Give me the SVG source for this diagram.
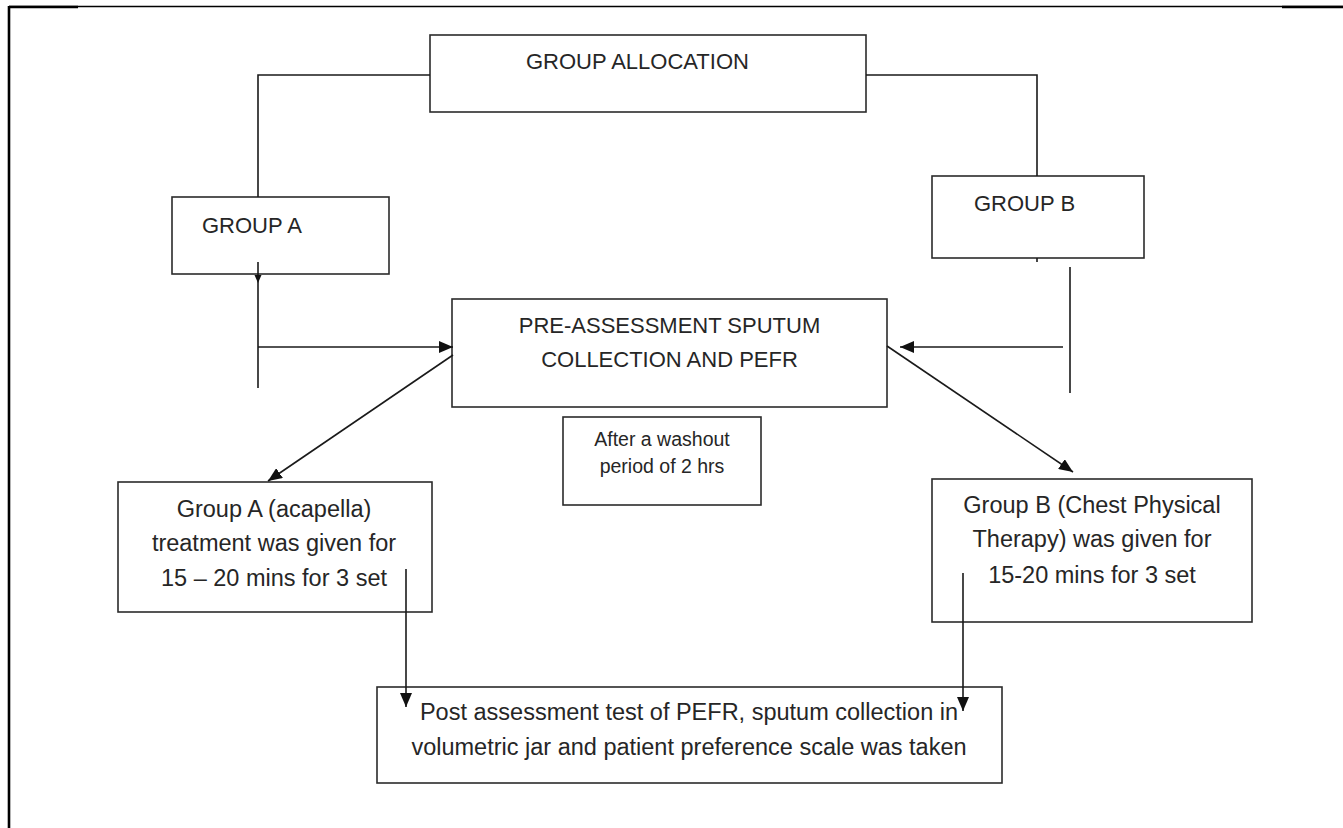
<svg xmlns="http://www.w3.org/2000/svg" width="1343" height="828" viewBox="0 0 1343 828">
<style>
.box{fill:#fff;stroke:#2b2b2b;stroke-width:1.6}
.cap{font-family:"Liberation Sans",Arial,sans-serif;font-size:22px;fill:#262626}
.txt{font-family:"Liberation Sans",Arial,sans-serif;font-size:23.5px;fill:#262626;text-anchor:middle}
.sm{font-family:"Liberation Sans",Arial,sans-serif;font-size:19.5px;fill:#262626;text-anchor:middle}
.ln{fill:none;stroke:#1a1a1a;stroke-width:1.6}
.ar{marker-end:url(#ah)}
</style>
<defs>
<marker id="ah" viewBox="0 0 14 12" refX="14" refY="6" markerWidth="14" markerHeight="12" markerUnits="userSpaceOnUse" orient="auto">
<path d="M0,0 L14,6 L0,12 Z" fill="#111"/>
</marker>
</defs>
<g id="border">
<line x1="9" y1="6.5" x2="1343" y2="6.5" stroke="#000" stroke-width="1.6"/>
<line x1="9" y1="7" x2="78" y2="7" stroke="#000" stroke-width="2.6"/>
<line x1="1282" y1="7" x2="1343" y2="7" stroke="#000" stroke-width="2.6"/>
<line x1="9" y1="6" x2="9" y2="828" stroke="#000" stroke-width="2.6"/>
</g>
<g id="group-allocation">
<rect class="box" x="430" y="35" width="436" height="77"/>
<text class="cap" x="526" y="69">GROUP ALLOCATION</text>
</g>
<g id="group-a">
<rect class="box" x="172" y="197" width="217" height="77"/>
<text class="cap" x="202" y="233">GROUP A</text>
</g>
<g id="group-b">
<rect class="box" x="932" y="176" width="212" height="82"/>
<text class="cap" x="974" y="211">GROUP B</text>
</g>
<g id="pre-assessment">
<rect class="box" x="452" y="299" width="435" height="108"/>
<text class="cap" x="669.5" y="333" text-anchor="middle">PRE-ASSESSMENT SPUTUM</text>
<text class="cap" x="669.5" y="367" text-anchor="middle">COLLECTION AND PEFR</text>
</g>
<g id="washout">
<rect class="box" x="563" y="417" width="198" height="88"/>
<text class="sm" x="662" y="446">After a washout</text>
<text class="sm" x="662" y="473">period of 2 hrs</text>
</g>
<g id="group-a-treatment">
<rect class="box" x="118" y="482" width="314" height="130"/>
<text class="txt" x="274" y="517">Group A (acapella)</text>
<text class="txt" x="274" y="551">treatment was given for</text>
<text class="txt" x="274" y="586">15 – 20 mins for 3 set</text>
</g>
<g id="group-b-treatment">
<rect class="box" x="932" y="479" width="320" height="143"/>
<text class="txt" x="1092" y="513">Group B (Chest Physical</text>
<text class="txt" x="1092" y="547">Therapy) was given for</text>
<text class="txt" x="1092" y="583">15-20 mins for 3 set</text>
</g>
<g id="post-assessment">
<rect class="box" x="377" y="687" width="625" height="96"/>
<text class="txt" x="689" y="720">Post assessment test of PEFR, sputum collection in</text>
<text class="txt" x="689" y="755">volumetric jar and patient preference scale was taken</text>
</g>
<g id="connectors">
<polyline class="ln" points="430,75 258,75 258,197"/>
<polyline class="ln" points="866,75 1037,75 1037,176"/>
<line class="ln" x1="258" y1="262" x2="258" y2="388"/>
<path d="M254.5,275 L261.5,275 L258,283 Z" fill="#111"/>
<line class="ln ar" x1="258" y1="347" x2="453" y2="347"/>
<line class="ln" x1="1037" y1="258" x2="1037" y2="262"/>
<line class="ln" x1="1070" y1="267" x2="1070" y2="393"/>
<line class="ln ar" x1="1063" y1="347" x2="900" y2="347"/>
<line class="ln ar" x1="453" y1="355" x2="268" y2="481"/>
<line class="ln ar" x1="887" y1="346" x2="1073" y2="472"/>
<line class="ln ar" x1="406" y1="569" x2="406" y2="707"/>
<line class="ln ar" x1="963" y1="573" x2="963" y2="711"/>
</g>
</svg>
